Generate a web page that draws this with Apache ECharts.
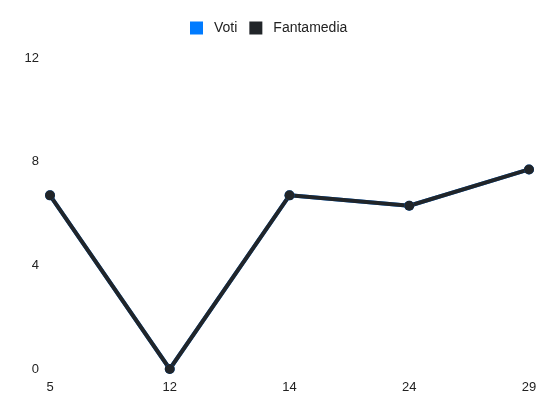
<!DOCTYPE html>
<html lang="it">
<head>
  <meta charset="UTF-8">
  <title>Voti e Fantamedia</title>
  <script src="https://cdn.jsdelivr.net/npm/echarts@6/dist/echarts.min.js"></script>
  <style>
    html, body { margin: 0; padding: 0; width: 100%; height: 100%; background: #fff; }
    #chart { width: 550px; height: 412px; }
  </style>
</head>
<body>
  <div id="chart"></div>
  <script>
    // giornate
    const giornate = ['5', '12', '14', '24', '29']
    const voti = [6.7, 0, 6.7, 6.3, 7.7]
    const fantamedia = [6.7, 0, 6.7, 6.3, 7.7]

    const chart = echarts.init(document.getElementById('chart'))
    chart.setOption({
      animation: false,
      textStyle: { fontFamily: 'Liberation Sans, Arial, sans-serif' },
      legend: {
        top: 16,
        left: 185,
        itemWidth: 13,
        itemHeight: 13,
        itemGap: 12,
        icon: 'rect',
        textStyle: { fontSize: 14, color: '#222', padding: [0, 0, 0, 6] },
        data: ['Voti', 'Fantamedia']
      },
      grid: { left: 50, right: 21, top: 58, bottom: 43 },
      xAxis: {
        type: 'category',
        boundaryGap: false,
        data: giornate,
        axisLine: { show: false },
        axisTick: { show: false },
        axisLabel: { color: '#222', fontSize: 13, margin: 12 }
      },
      yAxis: {
        type: 'value',
        min: 0,
        max: 12,
        interval: 4,
        splitLine: { show: false },
        axisLine: { show: false },
        axisTick: { show: false },
        axisLabel: { color: '#222', fontSize: 13, margin: 11 }
      },
      series: [
        {
          name: 'Voti',
          type: 'line',
          data: voti,
          symbol: 'circle',
          symbolSize: 10,
          lineStyle: { width: 4, color: '#007bff' },
          itemStyle: { color: '#007bff' }
        },
        {
          name: 'Fantamedia',
          type: 'line',
          data: fantamedia,
          symbol: 'circle',
          symbolSize: 10,
          lineStyle: { width: 4, color: '#212529' },
          itemStyle: { color: '#212529' }
        }
      ]
    })
  </script>
</body>
</html>
